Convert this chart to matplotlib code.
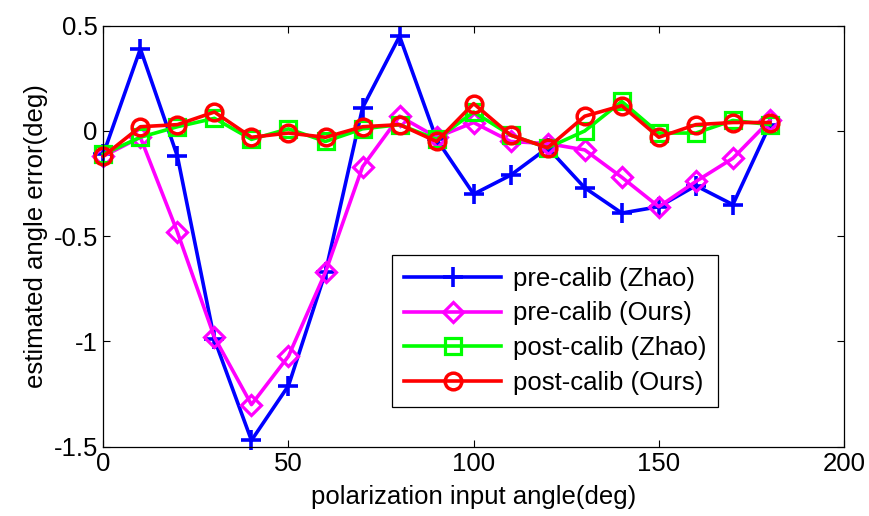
import numpy as np
import matplotlib
matplotlib.use('Agg')
import matplotlib.pyplot as plt

plt.rcParams['font.family'] = ['Liberation Sans', 'DejaVu Sans']

# input angles (deg)
angles = [0, 10, 20, 30, 40, 50, 60, 70, 80, 90, 100, 110, 120, 130, 140, 150, 160, 170, 180]

# estimated angle errors (deg)
pre_zhao = [-0.11, 0.39, -0.12, -0.99, -1.47, -1.21, -0.67, 0.11, 0.45, -0.04, -0.30, -0.21, -0.08,
            -0.27, -0.39, -0.36, -0.26, -0.35, 0.03]
pre_ours = [-0.12, -0.03, -0.48, -0.98, -1.30, -1.07, -0.67, -0.17, 0.07, -0.03, 0.04, -0.05, -0.06,
            -0.09, -0.22, -0.36, -0.24, -0.13, 0.05]
post_zhao = [-0.11, -0.03, 0.02, 0.06, -0.04, 0.01, -0.05, 0.01, 0.03, -0.04, 0.09, -0.02, -0.08,
             0.00, 0.14, -0.01, -0.01, 0.05, 0.03]
post_ours = [-0.12, 0.02, 0.03, 0.09, -0.03, -0.01, -0.03, 0.02, 0.03, -0.05, 0.13, -0.02, -0.08,
             0.07, 0.12, -0.03, 0.03, 0.04, 0.04]

labels = ['pre-calib (Zhao)', 'pre-calib (Ours)', 'post-calib (Zhao)', 'post-calib (Ours)']

fs = 18.5

fig = plt.figure(figsize=(8.69, 5.16), dpi=100)
ax = fig.add_axes([0.1189, 0.1343, 0.8523, 0.8159])

lw = 2.6
ax.plot(angles, pre_zhao, color='#0000FF', lw=lw, marker='+', ms=14, mew=2.6,
        clip_on=False, label=labels[0])
ax.plot(angles, pre_ours, color='#FF00FF', lw=lw, marker='D', ms=10, mew=2.3,
        mfc='none', clip_on=False, label=labels[1])
ax.plot(angles, post_zhao, color='#00FF00', lw=lw, marker='s', ms=11, mew=2.3,
        mfc='none', clip_on=False, label=labels[2])
ax.plot(angles, post_ours, color='#FF0000', lw=lw, marker='o', ms=12, mew=2.5,
        mfc='none', clip_on=False, label=labels[3])

ax.set_xlim(0, 200)
ax.set_ylim(-1.5, 0.5)
ax.set_xticks([0, 50, 100, 150, 200])
ax.set_yticks([-1.5, -1, -0.5, 0, 0.5])
ax.set_yticklabels(['-1.5', '-1', '-0.5', '0', '0.5'])
ax.tick_params(direction='in', length=5, width=0.8, top=True, right=True,
               labelsize=fs, pad=4)
for s in ax.spines.values():
    s.set_linewidth(0.9)

ax.set_xlabel('polarization input angle(deg)', fontsize=fs, labelpad=6)
ax.set_ylabel('estimated angle error(deg)', fontsize=fs, labelpad=4)

leg = ax.legend(loc='upper left', bbox_to_anchor=(0.39, 0.455), fontsize=fs,
                handlelength=3.8, handletextpad=0.45, labelspacing=0.42,
                borderpad=0.45, borderaxespad=0, fancybox=False, framealpha=1)
leg.get_frame().set_edgecolor('black')
leg.get_frame().set_linewidth(0.9)

fig.savefig('out.png', dpi=100)
